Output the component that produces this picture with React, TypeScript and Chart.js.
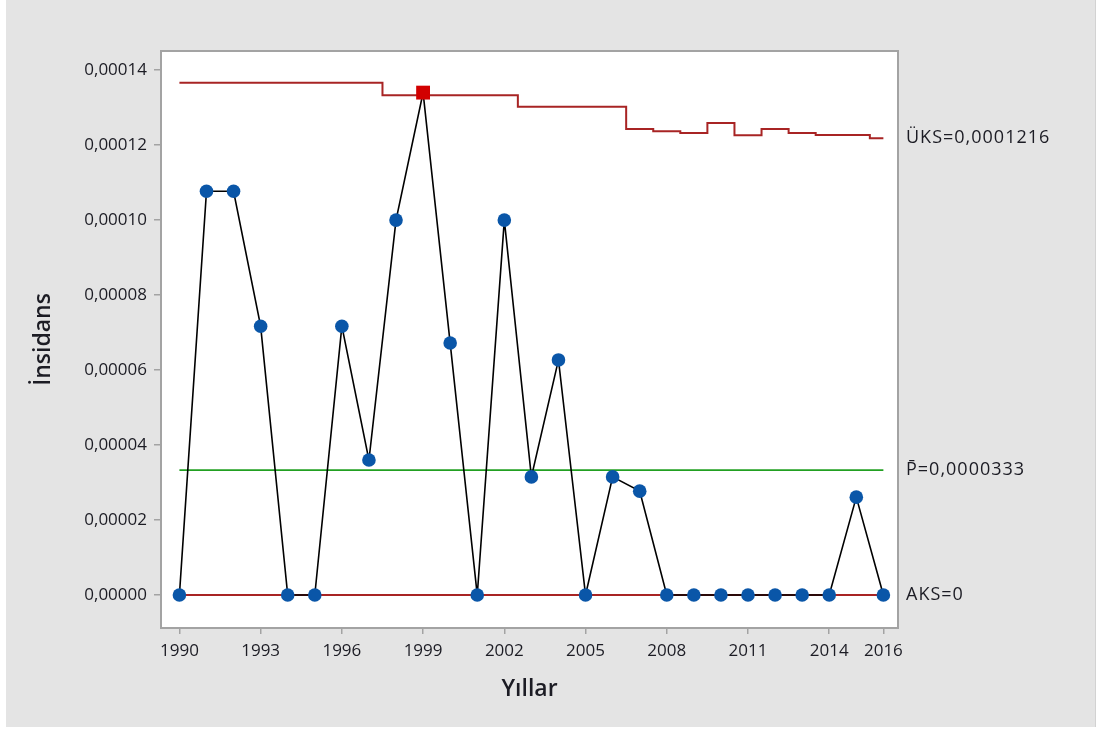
import React, { useEffect, useRef } from 'react';
import { Chart, registerables } from 'chart.js';

Chart.register(...registerables);

// ---- data ----
const years = [
  1990, 1991, 1992, 1993, 1994, 1995, 1996, 1997, 1998, 1999,
  2000, 2001, 2002, 2003, 2004, 2005, 2006, 2007, 2008, 2009,
  2010, 2011, 2012, 2013, 2014, 2015, 2016,
];
const incidence = [
  0, 0.0001077, 0.0001077, 0.0000717, 0, 0, 0.0000717, 0.000036, 0.0001, 0.000134,
  0.0000672, 0, 0.0001, 0.0000315, 0.0000627, 0, 0.0000315, 0.0000277, 0, 0,
  0, 0, 0, 0, 0, 0.0000261, 0,
];
const uclValues = [
  0.0001366, 0.0001366, 0.0001366, 0.0001366, 0.0001366, 0.0001366, 0.0001366, 0.0001366, 0.0001333, 0.0001333,
  0.0001333, 0.0001333, 0.0001333, 0.0001302, 0.0001302, 0.0001302, 0.0001302, 0.0001243, 0.0001237, 0.0001232,
  0.0001259, 0.0001226, 0.0001243, 0.0001232, 0.0001227, 0.0001227, 0.0001218,
];
const centerValue = 0.0000333;
const lclValue = 0;
const outOfControlYears = [1999];
const xTickYears = [1990, 1993, 1996, 1999, 2002, 2005, 2008, 2011, 2014, 2016];
const yTickValues = [0, 0.00002, 0.00004, 0.00006, 0.00008, 0.0001, 0.00012, 0.00014];
const uclLabel = 'ÜKS=0,0001216';
const centerLabel = 'P\u0304=0,0000333';
const lclLabel = 'AKS=0';
const xTitle = 'Yıllar';
const yTitle = 'İnsidans';

const FONT = '"Open Sans", "Noto Sans", "DejaVu Sans", sans-serif';
const TEXT = '#1c1c24';
const FRAME = '#a3a3a3';

const framePlugin = {
  id: 'frameAndLabels',
  beforeDraw(chart: any) {
    const { ctx, chartArea: a } = chart;
    ctx.save();
    ctx.fillStyle = '#ffffff';
    ctx.fillRect(a.left, a.top, a.right - a.left, a.bottom - a.top);
    ctx.restore();
  },
  beforeDatasetsDraw(chart: any) {
    const { ctx, chartArea: a } = chart;
    ctx.save();
    ctx.strokeStyle = FRAME;
    ctx.lineWidth = 2;
    ctx.strokeRect(a.left, a.top, a.right - a.left, a.bottom - a.top);
    ctx.restore();
  },
  afterDraw(chart: any) {
    const { ctx, chartArea: a } = chart;
    const y = chart.scales.y;
    ctx.save();
    ctx.fillStyle = TEXT;
    ctx.font = `18px ${FONT}`;
    (ctx as any).letterSpacing = '1px';
    ctx.textAlign = 'left';
    ctx.textBaseline = 'middle';
    const x = a.right + 8;
    ctx.fillText(uclLabel, x, y.getPixelForValue(uclValues[uclValues.length - 1]));
    ctx.fillText(centerLabel, x, y.getPixelForValue(centerValue));
    ctx.fillText(lclLabel, x, y.getPixelForValue(lclValue));
    ctx.restore();
  },
};

export default function App() {
  const ref = useRef<HTMLCanvasElement | null>(null);

  useEffect(() => {
    if (!ref.current) return;
    const isOut = (yr: number) => outOfControlYears.includes(yr);
    const chart = new Chart(ref.current, {
      type: 'line',
      data: {
        datasets: [
          {
            label: 'İnsidans',
            data: years.map((yr, i) => ({ x: yr, y: incidence[i] })),
            borderColor: '#000000',
            borderWidth: 1.6,
            pointStyle: years.map((yr) => (isOut(yr) ? 'rect' : 'circle')) as any,
            pointRadius: years.map((yr) => (isOut(yr) ? 9.8 : 6.8)),
            pointBackgroundColor: years.map((yr) => (isOut(yr) ? '#d20000' : '#0a56a8')),
            pointBorderWidth: 0,
            order: 0,
          },
          {
            label: 'ÜKS',
            data: years.map((yr, i) => ({ x: yr, y: uclValues[i] })),
            borderColor: '#a82424',
            borderWidth: 2,
            stepped: 'middle',
            pointRadius: 0,
            order: 1,
          },
          {
            label: 'P',
            data: [
              { x: years[0], y: centerValue },
              { x: years[years.length - 1], y: centerValue },
            ],
            borderColor: '#22a022',
            borderWidth: 1.8,
            pointRadius: 0,
            order: 2,
          },
          {
            label: 'AKS',
            data: [
              { x: years[0], y: lclValue },
              { x: years[years.length - 1], y: lclValue },
            ],
            borderColor: '#a82424',
            borderWidth: 2,
            pointRadius: 0,
            order: 3,
          },
        ],
      },
      options: {
        animation: false,
        responsive: false,
        events: [],
        layout: { padding: { left: 0, top: 51, right: 197, bottom: 0 } },
        plugins: { legend: { display: false }, tooltip: { enabled: false } },
        scales: {
          x: {
            type: 'linear',
            min: 1989.32,
            max: 2016.54,
            afterBuildTicks: (s: any) => {
              s.ticks = xTickYears.map((v) => ({ value: v }));
            },
            afterFit: (s: any) => {
              s.height = 99;
            },
            ticks: {
              callback: (v: any) => String(v),
              color: TEXT,
              font: { family: FONT, size: 17 },
              padding: 7,
              maxRotation: 0,
              autoSkip: false,
            },
            grid: { display: true, drawOnChartArea: false, drawTicks: true, tickLength: 6, color: FRAME, lineWidth: 1.5 },
            border: { display: false },
            title: {
              display: true,
              text: xTitle,
              color: TEXT,
              font: { family: FONT, size: 23, weight: '600' },
              padding: { top: 0, bottom: 24 },
            },
          },
          y: {
            type: 'linear',
            min: -0.0000088,
            max: 0.0001451,
            afterBuildTicks: (s: any) => {
              s.ticks = yTickValues.map((v) => ({ value: v }));
            },
            afterFit: (s: any) => {
              s.width = 155;
            },
            ticks: {
              callback: (v: any) => Number(v).toFixed(5).replace('.', ','),
              color: TEXT,
              font: { family: FONT, size: 17 },
              padding: 7,
              autoSkip: false,
            },
            grid: { display: true, drawOnChartArea: false, drawTicks: true, tickLength: 7, color: FRAME, lineWidth: 1.5 },
            border: { display: false },
            title: {
              display: true,
              text: yTitle,
              color: TEXT,
              font: { family: FONT, size: 23, weight: '600' },
              padding: { top: 24, bottom: 0 },
            },
          },
        },
      },
      plugins: [framePlugin],
    } as any);
    return () => chart.destroy();
  }, []);

  return (
    <div style={{ position: 'fixed', left: 0, top: 0, width: 1099, height: 729, background: '#ffffff' }}>
      <div
        style={{
          position: 'absolute',
          left: 6,
          top: 0,
          width: 1089,
          height: 727,
          background: '#e4e4e4',
          borderRight: '1px solid #d2d2d2',
        }}
      >
        <canvas ref={ref} width={1089} height={727} style={{ display: 'block', width: 1089, height: 727 }} />
      </div>
    </div>
  );
}
